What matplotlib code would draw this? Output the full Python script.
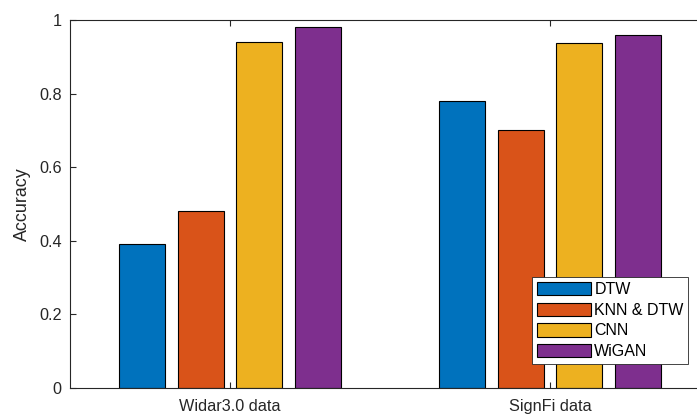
import numpy as np
import matplotlib
matplotlib.use('Agg')
import matplotlib.pyplot as plt

# data
groups = ['Widar3.0 data', 'SignFi data']
methods = ['DTW', 'KNN & DTW', 'CNN', 'WiGAN']
acc_dtw = [0.39, 0.78]
acc_knn_dtw = [0.48, 0.70]
acc_cnn = [0.94, 0.937]
acc_wigan = [0.98, 0.958]
yticks = [0, 0.2, 0.4, 0.6, 0.8, 1]
ytick_labels = ['0', '0.2', '0.4', '0.6', '0.8', '1']

# matlab default colour order
colors = ['#0072BD', '#D95319', '#EDB120', '#7E2F8E']

plt.rcParams['font.family'] = ['Liberation Sans', 'DejaVu Sans']
plt.rcParams['font.size'] = 11.7

fig = plt.figure(figsize=(6.97, 4.17), dpi=100)
ax = fig.add_axes([70 / 697, 29 / 417, 640 / 697, 368 / 417])

x = np.arange(1, len(groups) + 1)
step = 0.183
width = 0.144
series = [acc_dtw, acc_knn_dtw, acc_cnn, acc_wigan]
for i, vals in enumerate(series):
    ax.bar(x + (i - 1.5) * step, vals, width, color=colors[i],
           edgecolor='black', linewidth=0.8, label=methods[i])

ax.set_xlim(0.5, 2.5)
ax.set_ylim(0, 1)
ax.set_xticks(x)
ax.set_xticklabels(groups)
ax.set_yticks(yticks)
ax.set_yticklabels(ytick_labels)
# label is 1.1x the tick font, like matlab
ax.set_ylabel('Accuracy', color='#262626', fontsize=12.9, labelpad=6)

# matlab style box with inward ticks
for s in ax.spines.values():
    s.set_color('#262626')
    s.set_linewidth(0.8)
ax.tick_params(direction='in', length=4, width=0.8, color='#262626',
               top=True, right=True, labelcolor='#262626')
ax.tick_params(axis='x', pad=8)
ax.tick_params(axis='y', pad=6)

leg = ax.legend(loc='lower left', bbox_to_anchor=(532 / 697, 53 / 417),
                bbox_transform=fig.transFigure, borderaxespad=0,
                fancybox=False, framealpha=1, edgecolor='#262626',
                handlelength=3.4, handleheight=0.9, handletextpad=0.2,
                labelspacing=0.35, borderpad=0.3, fontsize=11.5)
leg.get_frame().set_linewidth(0.6)

fig.savefig('out.png', dpi=100)
